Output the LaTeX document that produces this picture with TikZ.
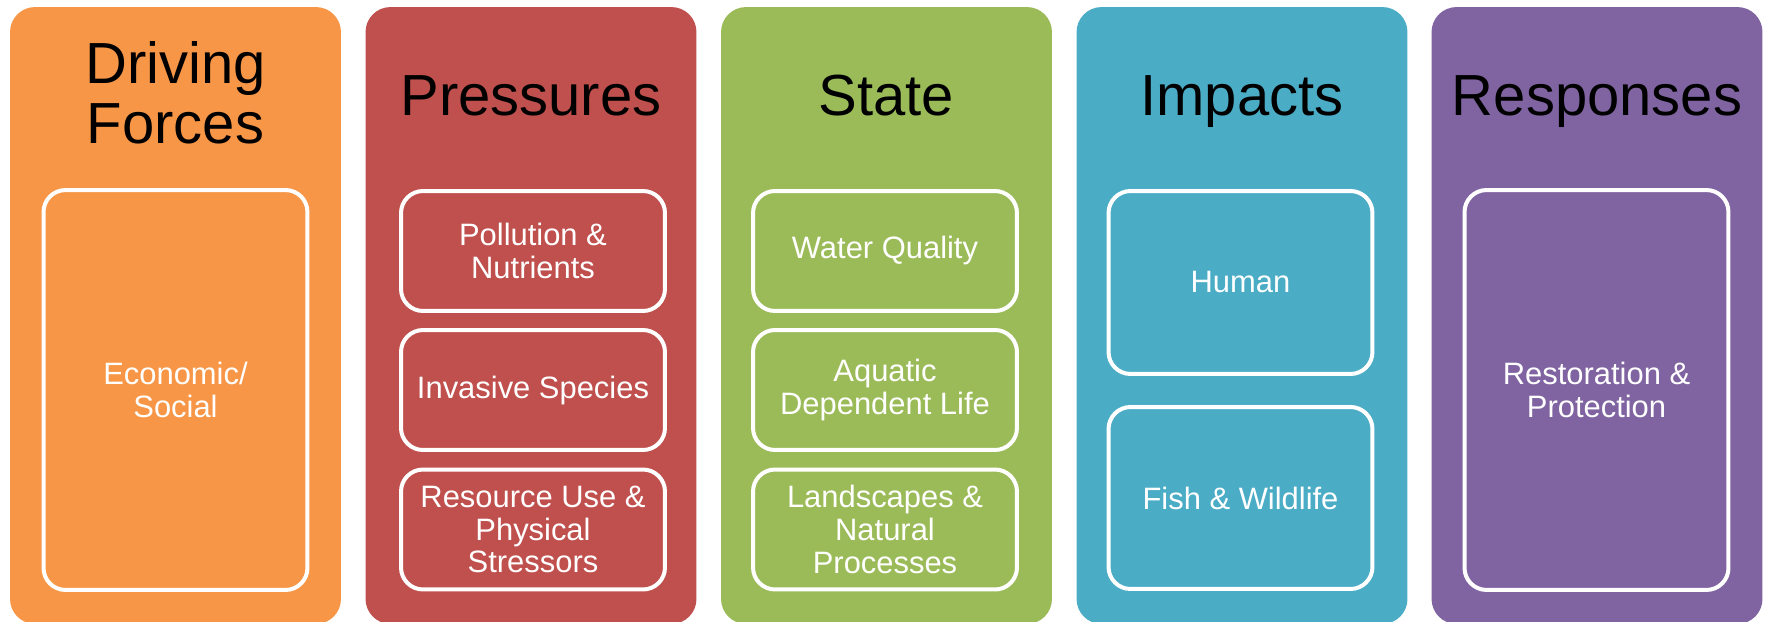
\documentclass[tikz,border=0pt]{standalone}
\usepackage{fontspec}
\setmainfont{Liberation Sans}
\usepackage{tikz}
\definecolor{drvorange}{HTML}{F79646}
\definecolor{presred}{HTML}{C0504D}
\definecolor{stategreen}{HTML}{9BBB59}
\definecolor{impblue}{HTML}{4BACC6}
\definecolor{resppurple}{HTML}{8064A2}

\begin{document}
\begin{tikzpicture}[x=0.02cm,y=-0.02cm,
		column/.style={minimum width=6.62cm,minimum height=12.34cm,rounded corners=0.5cm,inner sep=0pt},
		title/.style={align=center,font=\fontsize{33}{34.2}\selectfont},
		item/.style={draw=white,line width=0.08cm,rounded corners=0.44cm,minimum width=5.28cm,
			align=center,text=white,inner sep=0pt,font=\fontsize{17.6}{18.6}\selectfont}]
		\useasboundingbox (0,0) rectangle (1765,622);

		\node[column,fill=drvorange] (drivingcol) at (175.5,315.5) {};
		\node[column,fill=presred] (pressurescol) at (531,315.5) {};
		\node[column,fill=stategreen] (statecol) at (886.5,315.5) {};
		\node[column,fill=impblue] (impactscol) at (1242,315.5) {};
		\node[column,fill=resppurple] (responsescol) at (1597,315.5) {};

		\node[title] (drivingtitle) at (175.5,92.5) {Driving\\Forces};
		\node[title,anchor=base] (pressurestitle) at (531,115) {Pressures};
		\node[title,anchor=base] (statetitle) at (886.5,115) {State};
		\node[title,anchor=base] (impactstitle) at (1242,115) {Impacts};
		\node[title,anchor=base] (responsestitle) at (1597,115) {Responses};

		\node[item,minimum height=8cm] (economic) at (175.5,390) {Economic/\\Social};

		\node[item,minimum height=2.4cm] (pollution) at (533,251) {Pollution \&\\Nutrients};
		\node[item,minimum height=2.4cm] (invasive) at (533,390) {Invasive Species};
		\node[item,minimum height=2.4cm] (resource) at (533,529.5) {Resource Use \&\\Physical\\Stressors};

		\node[item,minimum height=2.4cm] (water) at (885,251) {Water Quality};
		\node[item,minimum height=2.4cm] (aquatic) at (885,390) {Aquatic\\Dependent Life};
		\node[item,minimum height=2.4cm] (landscapes) at (885,529.5) {Landscapes \&\\Natural\\Processes};

		\node[item,minimum height=3.66cm] (human) at (1240.5,282.5) {Human};
		\node[item,minimum height=3.64cm] (fish) at (1240.5,498) {Fish \& Wildlife};

		\node[item,minimum height=8cm] (restoration) at (1596.5,390) {Restoration \&\\Protection};
	\end{tikzpicture}
\end{document}
